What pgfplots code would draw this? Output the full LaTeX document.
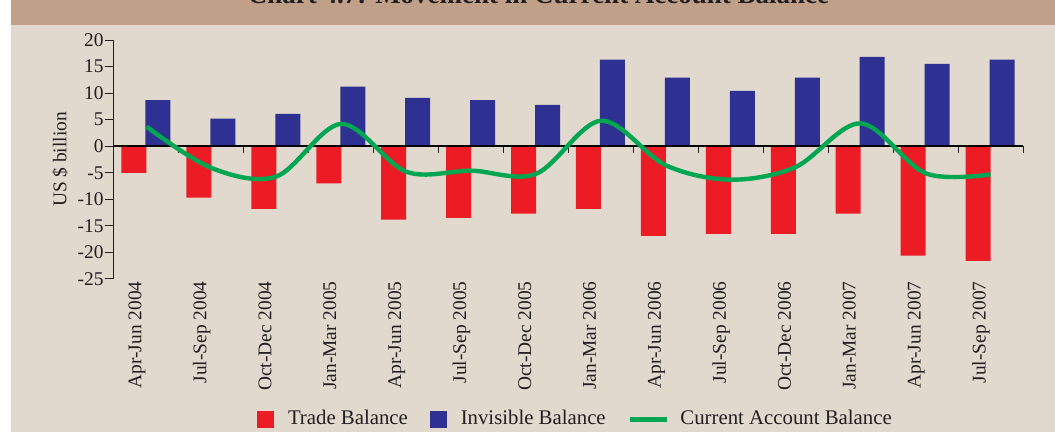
\documentclass[border=0pt]{standalone}
\usepackage{fontspec}
\setmainfont{Liberation Serif}
\usepackage{pgfplots}
\usepackage{pgfplotstable}
\pgfplotsset{compat=1.18}
\definecolor{tred}{HTML}{ED1C24}
\definecolor{iblue}{HTML}{2E3192}
\definecolor{cgreen}{HTML}{00A651}
\definecolor{bg}{HTML}{E1D8CE}
\definecolor{hdr}{HTML}{C1A08A}
\definecolor{axgray}{HTML}{231F20}
\pgfplotstableread{
x trade invis cab
0  -5.0   8.7   3.7
1  -9.7   5.2  -4.1
2  -11.8  6.1  -5.7
3  -7.0   11.2  4.2
4  -13.8  9.1  -4.8
5  -13.5  8.7  -4.6
6  -12.7  7.8  -5.2
7  -11.8  16.3  4.8
8  -16.9  12.9 -3.6
9  -16.5  10.4 -6.3
10 -16.5  12.9 -3.9
11 -12.7  16.8  4.3
12 -20.6  15.5 -5.1
13 -21.6  16.3 -5.3
}\data
\begin{document}
\begin{tikzpicture}
\useasboundingbox (0,0) rectangle (527.5pt,-216pt);
\clip (0,0) rectangle (527.5pt,-216pt);
\fill[white] (0,0) rectangle (527.5pt,-216pt);
\fill[bg] (5.5pt,0) rectangle (527.5pt,-216pt);
\fill[hdr] (5.5pt,0) rectangle (527.5pt,-12.5pt);
\node[anchor=base, font=\bfseries\fontsize{13.5}{16}\selectfont, text=axgray] at (269.25pt,-2pt) {Chart 4.7: Movement in Current Account Balance};
\begin{axis}[
  at={(57pt,-139.5pt)}, anchor=south west,
  scale only axis, width=454.5pt, height=119.5pt,
  xmin=-0.5, xmax=13.5, ymin=-25, ymax=20,
  axis x line=bottom, axis y line=left,
  axis line style={-, axgray, line width=0.5pt},
  x axis line style={draw=none},
  xtick={0,...,13},
  xticklabels={Apr-Jun 2004,Jul-Sep 2004,Oct-Dec 2004,Jan-Mar 2005,Apr-Jun 2005,Jul-Sep 2005,Oct-Dec 2005,Jan-Mar 2006,Apr-Jun 2006,Jul-Sep 2006,Oct-Dec 2006,Jan-Mar 2007,Apr-Jun 2007,Jul-Sep 2007},
  x tick style={draw=none},
  xtick align=inside,
  ytick align=outside,
  x tick label style={xshift=-2.5pt, yshift=4.5pt, rotate=90, anchor=base east, inner sep=1pt, font=\fontsize{9.7}{11}\selectfont, text=axgray},
  ytick={-25,-20,-15,-10,-5,0,5,10,15,20},
  yticklabels={-25,-20,-15,-10,-5,0,5,10,15,20},
  y tick label style={font=\fontsize{9.7}{11}\selectfont, inner sep=0.5pt, text=axgray},
  major tick length=4.5pt,
  y tick style={axgray, line width=0.5pt},
  ylabel={US \$ billion},
  every axis y label/.style={at={(axis description cs:-0.0594,0.5)}, rotate=90, anchor=center, font=\fontsize{9.7}{11}\selectfont, text=axgray},
  ybar, bar width=12.5pt,
]
\addplot[fill=tred, draw=none, bar shift=-6.25pt] table[x=x,y=trade]{\data};
\addplot[fill=iblue, draw=none, bar shift=5.75pt] table[x=x,y=invis]{\data};
\end{axis}
\begin{axis}[
  at={(57pt,-139.5pt)}, anchor=south west,
  scale only axis, width=454.5pt, height=119.5pt,
  xmin=-0.5, xmax=13.5, ymin=-25, ymax=20,
  axis x line=middle, axis y line=none,
  axis line style={-, black, line width=1pt},
  xtick={0.5,1.5,...,13.5}, xticklabels={},
  tick align=outside, major tick length=3.5pt,
  x tick style={axgray, line width=0.5pt},
  legend columns=3,
  legend style={at={(0.5066,-0.586)}, anchor=center, draw=none, fill=none,
    font=\fontsize{10.4}{12}\selectfont, text=axgray,
    nodes={inner sep=0pt},
    /tikz/every even column/.append style={column sep=11pt}},
]
\addlegendimage{legend image code/.code={\fill[tred] (0pt,-4pt) rectangle (8pt,4pt); \path (15pt,0pt);}}
\addlegendentry{Trade Balance}
\addlegendimage{legend image code/.code={\fill[iblue] (0pt,-4pt) rectangle (8pt,4pt); \path (15pt,0pt);}}
\addlegendentry{Invisible Balance}
\addplot[cgreen, line width=2.2pt, smooth, tension=0.55, no markers,
  legend image code/.code={\draw[cgreen, line width=2.5pt] (0pt,0pt) -- (18.5pt,0pt); \path (24pt,0pt);}] table[x=x,y=cab]{\data};
\addlegendentry{Current Account Balance}
\end{axis}
\end{tikzpicture}
\end{document}
